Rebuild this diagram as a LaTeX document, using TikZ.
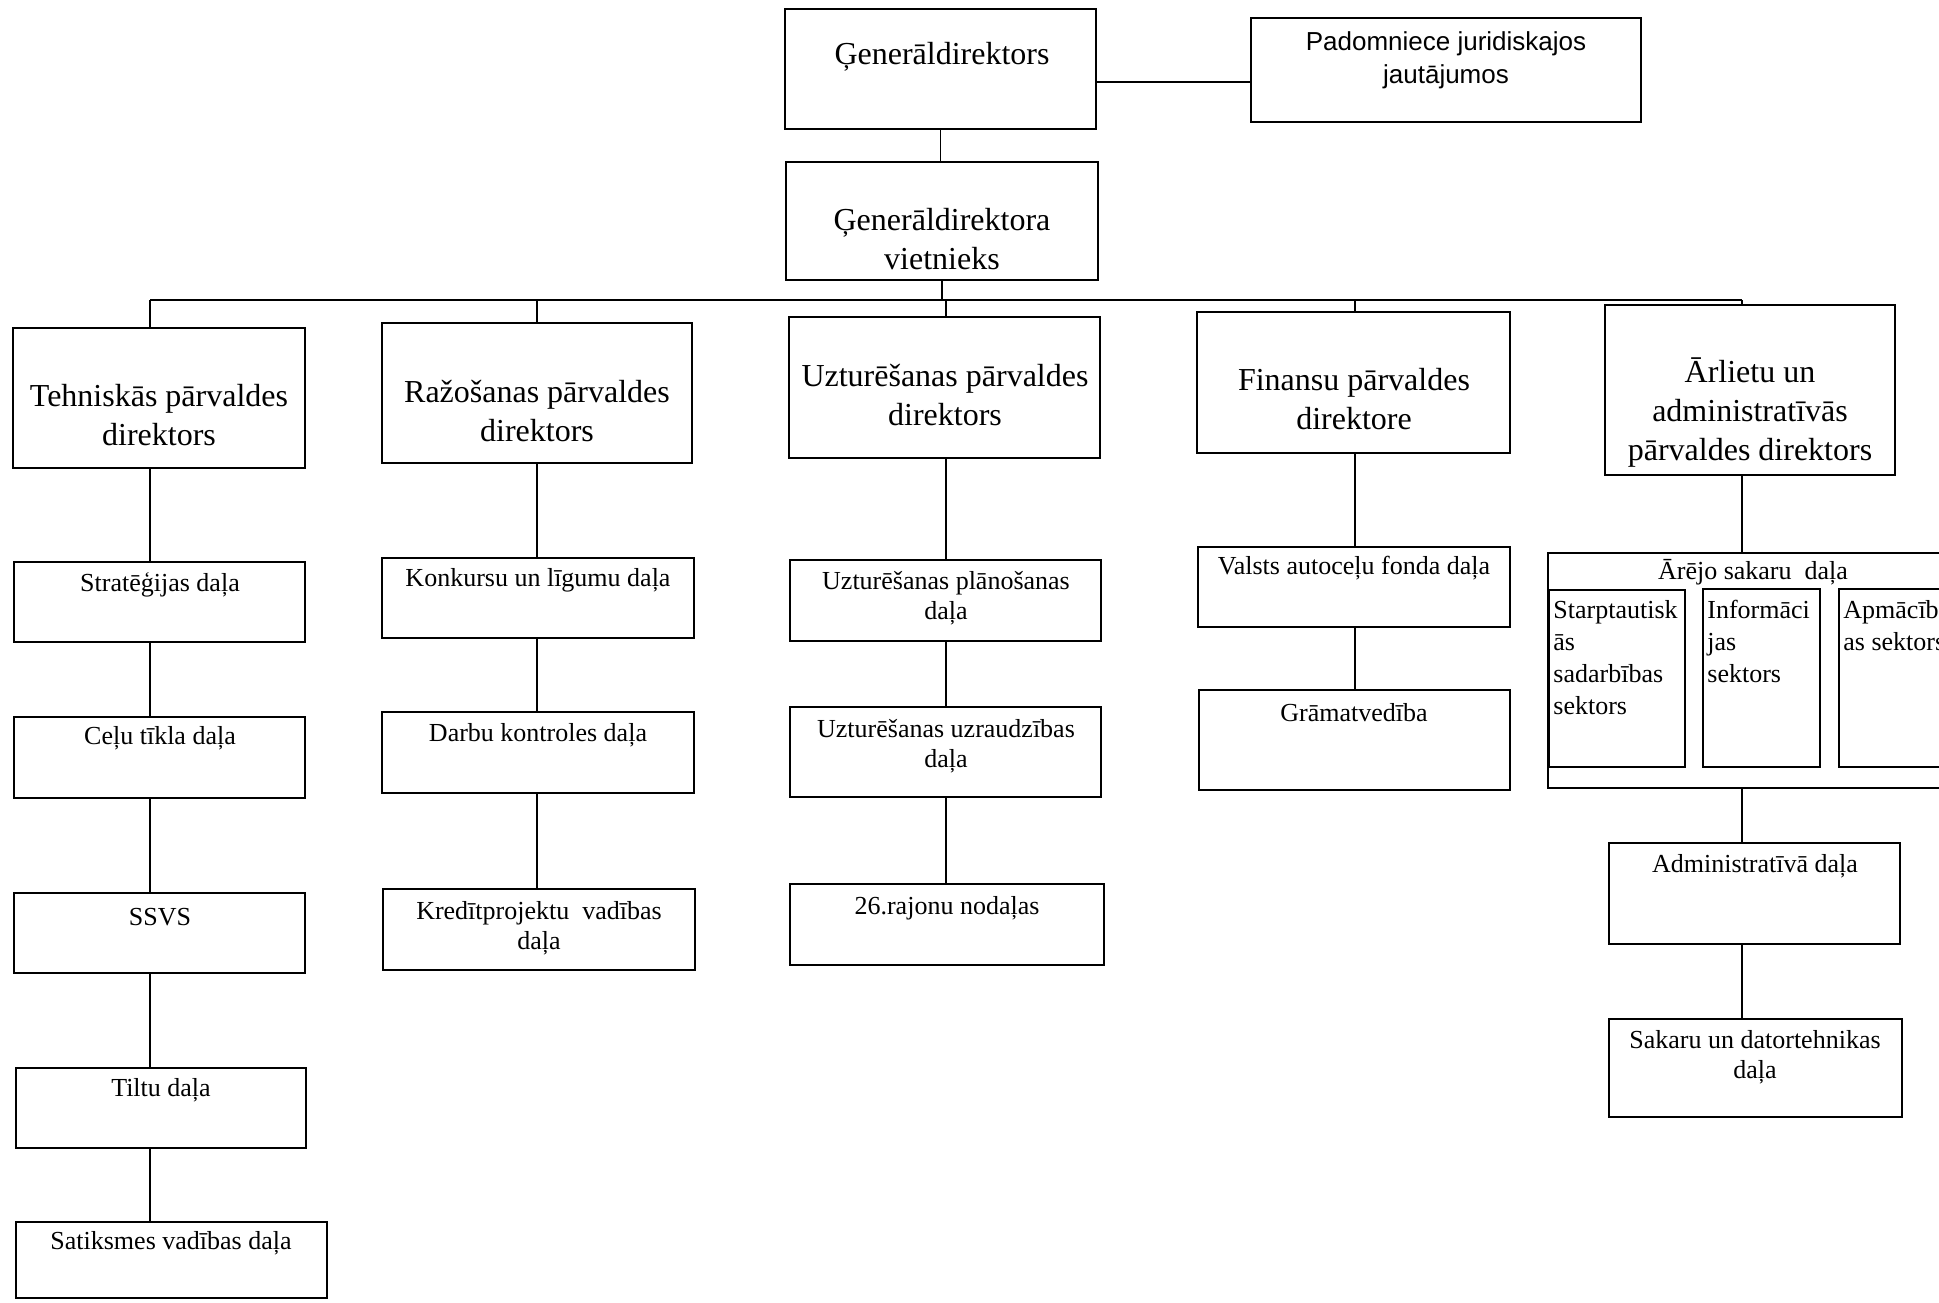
\documentclass[tikz,border=0pt]{standalone}
\usepackage{fontspec}
\setmainfont{Liberation Serif}
\newfontfamily\sansf{Liberation Sans}
\usetikzlibrary{fit}
\newcommand\mybox[5]{\node[box, fit={(#2,#3) (#4,#5)}] (#1) {};}
\begin{document}
\begin{tikzpicture}[x=0.5pt,y=-0.5pt,
  box/.style={draw, line width=1.1pt, inner sep=0pt},
  conn/.style={line width=0.9pt},
  big/.style={font=\fontsize{16}{19.5}\selectfont, align=center, inner sep=0pt},
  small/.style={font=\fontsize{13}{15}\selectfont, align=center, inner sep=0pt},
  sect/.style={font=\fontsize{13}{16}\selectfont, align=left, inner sep=0pt, anchor=north west},
  sansl/.style={font=\sansf\fontsize{13}{16.5}\selectfont, align=center, inner sep=0pt}]
\useasboundingbox[fill=white] (0,0) rectangle (1939,1302);

% boxes
\mybox{gd}{785}{9}{1096}{129}
\mybox{pad}{1251}{18}{1641}{122}
\mybox{gdv}{786}{162}{1098}{280}
\mybox{tech}{13}{328}{305}{468}
\mybox{raz}{382}{323}{692}{463}
\mybox{uzt}{789}{317}{1100}{458}
\mybox{fin}{1197}{312}{1510}{453}
\mybox{arl}{1605}{305}{1895}{475}
\mybox{strat}{14}{562}{305}{642}
\mybox{celu}{14}{717}{305}{798}
\mybox{ssvs}{14}{893}{305}{973}
\mybox{tiltu}{16}{1068}{306}{1148}
\mybox{satik}{16}{1222}{327}{1298}
\mybox{konk}{382}{558}{694}{638}
\mybox{darbu}{382}{712}{694}{793}
\mybox{kred}{383}{889}{695}{970}
\mybox{uplan}{790}{560}{1101}{641}
\mybox{uuzr}{790}{707}{1101}{797}
\mybox{raj}{790}{884}{1104}{965}
\mybox{valsts}{1198}{547}{1510}{627}
\mybox{gram}{1199}{690}{1510}{790}
\mybox{arej}{1548}{553}{1990}{788}
\mybox{starpt}{1549}{590}{1685}{767}
\mybox{inform}{1703}{589}{1820}{767}
\mybox{apmac}{1839}{589}{1990}{767}
\mybox{adm}{1609}{843}{1900}{944}
\mybox{sak}{1609}{1019}{1902}{1117}

% texts
\node[big] (tgd) at (942,57) {Ģenerāldirektors};
\node[sansl] (tpad) at (1446,60) {Padomniece juridiskajos\\jautājumos};
\node[big] (tgdv) at (942,239) {Ģenerāldirektora\\vietnieks};
\node[big] (ttech) at (159,415) {Tehniskās pārvaldes\\direktors};
\node[big] (traz) at (537,411) {Ražošanas pārvaldes\\direktors};
\node[big] (tuzt) at (945,395) {Uzturēšanas pārvaldes\\direktors};
\node[big] (tfin) at (1354,399) {Finansu pārvaldes\\direktore};
\node[big] (tarl) at (1750,413) {Ārlietu un\\administratīvās\\pārvaldes direktors};
\node[small] (tstrat) at (160,585) {Stratēģijas daļa};
\node[small] (tcelu) at (160,738) {Ceļu tīkla daļa};
\node[small] (tssvs) at (160,917) {SSVS};
\node[small] (ttiltu) at (161,1090) {Tiltu daļa};
\node[small] (tsatik) at (171,1243) {Satiksmes vadības daļa};
\node[small] (tkonk) at (538,580) {Konkursu un līgumu daļa};
\node[small] (tdarbu) at (538,735) {Darbu kontroles daļa};
\node[small] (tkred) at (539,928) {Kredītprojektu\ \ vadības\\daļa};
\node[small] (tuplan) at (946,598) {Uzturēšanas plānošanas\\daļa};
\node[small] (tuuzr) at (946,746) {Uzturēšanas uzraudzības\\daļa};
\node[small] (traj) at (947,908) {26.rajonu nodaļas};
\node[small] (tvalsts) at (1354,568) {Valsts autoceļu fonda daļa};
\node[small] (tgram) at (1354,713) {Grāmatvedība};
\node[small] (tarej) at (1753,572) {Ārējo sakaru\ \ daļa};
\node[sect] (tstarpt) at (1553,600) {Starptautisk\\ās\\sadarbības\\sektors};
\node[sect] (tinform) at (1707,600) {Informāci\\jas\\sektors};
\node[sect] (tapmac) at (1843,600) {Apmācīb\\as sektors};
\node[small] (tadm) at (1755,866) {Administratīvā daļa};
\node[small] (tsak) at (1755,1057) {Sakaru un datortehnikas\\daļa};

% connectors
\coordinate (lvl) at (0,82);
\coordinate (c1) at (150,300);
\coordinate (c2) at (537,300);
\coordinate (c3) at (946,300);
\coordinate (c4) at (1355,300);
\coordinate (c5) at (1742,300);
\draw[conn] (gd.east |- lvl) -- (pad.west |- lvl);
\draw[conn] (gd.south) -- (gd.south |- gdv.north);
\draw[conn] (gdv.south) -- (gdv.south |- c1);
\draw[conn] (c1) -- (c5);
\draw[conn] (c1) -- (c1 |- tech.north);
\draw[conn] (c2) -- (c2 |- raz.north);
\draw[conn] (c3) -- (c3 |- uzt.north);
\draw[conn] (c4) -- (c4 |- fin.north);
\draw[conn] (c5) -- (c5 |- arl.north);
\draw[conn] (tech.south -| c1) -- (strat.north -| c1);
\draw[conn] (strat.south -| c1) -- (celu.north -| c1);
\draw[conn] (celu.south -| c1) -- (ssvs.north -| c1);
\draw[conn] (ssvs.south -| c1) -- (tiltu.north -| c1);
\draw[conn] (tiltu.south -| c1) -- (satik.north -| c1);
\draw[conn] (raz.south -| c2) -- (konk.north -| c2);
\draw[conn] (konk.south -| c2) -- (darbu.north -| c2);
\draw[conn] (darbu.south -| c2) -- (kred.north -| c2);
\draw[conn] (uzt.south -| c3) -- (uplan.north -| c3);
\draw[conn] (uplan.south -| c3) -- (uuzr.north -| c3);
\draw[conn] (uuzr.south -| c3) -- (raj.north -| c3);
\draw[conn] (fin.south -| c4) -- (valsts.north -| c4);
\draw[conn] (valsts.south -| c4) -- (gram.north -| c4);
\draw[conn] (arl.south -| c5) -- (arej.north -| c5);
\draw[conn] (arej.south -| c5) -- (adm.north -| c5);
\draw[conn] (adm.south -| c5) -- (sak.north -| c5);
\end{tikzpicture}
\end{document}
